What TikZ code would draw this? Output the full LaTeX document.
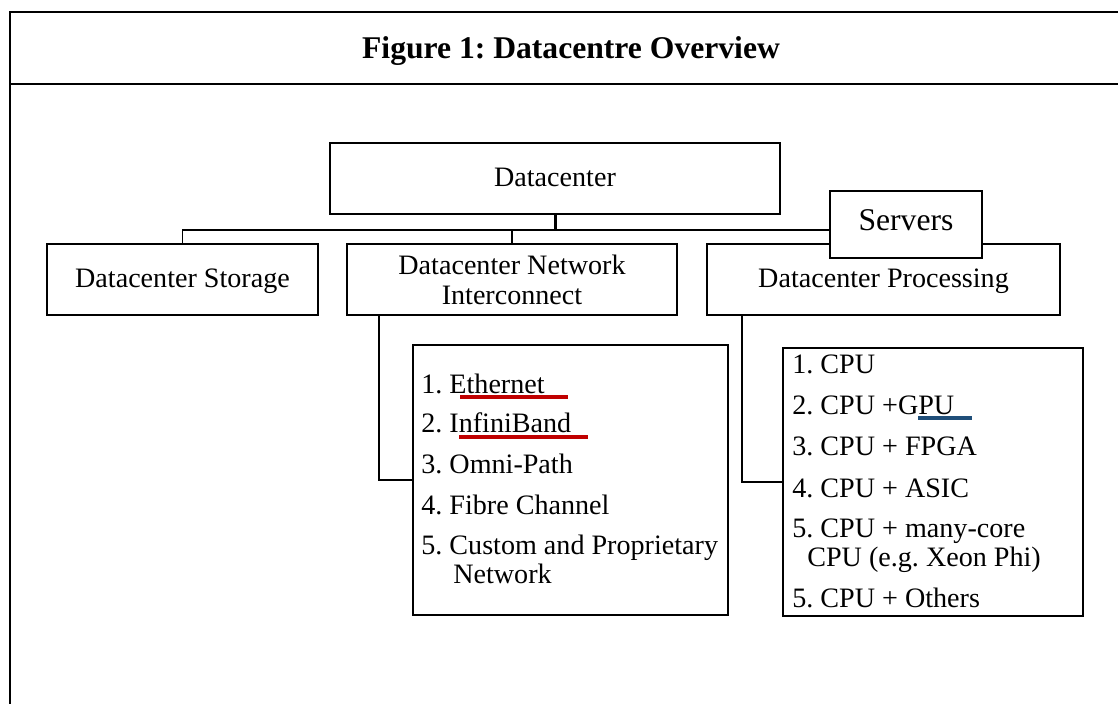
\documentclass[tikz,border=0pt]{standalone}
\usepackage{fontspec}
\setmainfont{Liberation Serif}
\frenchspacing
\definecolor{ulred}{HTML}{C00000}
\definecolor{ulblue}{HTML}{1F4E79}
\newcommand\bodyfont{\fontsize{16}{18.5}\selectfont\frenchspacing}
\newcommand\titlefont{\fontsize{18}{22}\selectfont\bfseries\frenchspacing}
\newcommand\srvfont{\fontsize{18}{22}\selectfont}
\begin{document}
\begin{tikzpicture}[x=0.02cm,y=-0.02cm,
  frame/.style={line width=1.4pt},
  box/.style={draw,fill=white,line width=1.1pt,inner sep=0pt,font=\bodyfont,
    text height=0.86em,text depth=0pt},
  twobox/.style={draw,fill=white,line width=1.1pt,inner sep=0pt,font=\bodyfont,align=center},
  listbox/.style={draw,fill=white,line width=1.1pt,inner sep=0pt},
  item/.style={anchor=base west,inner sep=0pt,font=\bodyfont},
  conn/.style={line width=0.9pt},
  stem/.style={line width=1.7pt},
  ul/.style={line width=2.2pt}]
\useasboundingbox (0,0) rectangle (1118,704);
% frame
\draw[frame] (1118,12) -- (10,12) -- (10,704);
\draw[frame] (10,84) -- (1118,84);
\node[font=\titlefont,anchor=base,inner sep=0pt] (title) at (571,58) {Figure 1: Datacentre Overview};
% top level
\node[box,minimum width=9cm,minimum height=1.42cm] (dc) at (555,178.5) {Datacenter};
\node[box,minimum width=5.42cm,minimum height=1.42cm] (sto) at (182.5,279.5) {Datacenter Storage};
\node[twobox,minimum width=6.6cm,minimum height=1.42cm] (net) at (512,279.5) {Datacenter Network\\[-1.5pt]Interconnect};
\node[box,minimum width=7.06cm,minimum height=1.42cm] (pro) at (883.5,279.5) {Datacenter Processing};
\node[box,line width=1.6pt,font=\srvfont,text height=0.66em,minimum width=3.04cm,minimum height=1.34cm] (srv) at (906,224.5) {Servers\hspace{0.28cm}};
% bus
\coordinate (bus) at (555,230);
\draw[conn] (sto.north) |- (bus) -- (bus -| srv.west);
\draw[conn] (net.north) -- (net.north |- bus);
\draw[stem] (dc.south) -- (bus);
% lists
\node[listbox,minimum width=6.3cm,minimum height=5.4cm] (nl) at (570.5,480) {};
\node[listbox,minimum width=6cm,minimum height=5.36cm] (pl) at (933,482) {};
\draw[conn] (net.south west) ++(33,0) |- (nl.west);
\draw[conn] (pro.south west) ++(36,0) |- (pl.west);
% network items
\node[item] (n1) at (421,393) {1. Ethernet};
\node[item] (n2) at (421,432) {2. InfiniBand};
\node[item] (n3) at (421,473) {3. Omni-Path};
\node[item] (n4) at (421,514) {4. Fibre Channel};
\node[item] (n5) at (421,554) {5. Custom and Proprietary};
\node[item] (n5b) at (453,583) {Network};
\draw[ul,ulred] (460,397) -- (568,397);
\draw[ul,ulred] (459,437) -- (588,437);
% processing items
\node[item] (p1) at (792,373) {1. CPU};
\node[item] (p2) at (792,414) {2. CPU +GPU};
\node[item] (p3) at (792,455) {3. CPU + FPGA};
\node[item] (p4) at (792,497) {4. CPU + ASIC};
\node[item] (p5) at (792,537) {5. CPU + many-core};
\node[item] (p5b) at (807,566) {CPU (e.g. Xeon Phi)};
\node[item] (p6) at (792,607) {5. CPU + Others};
\draw[ul,ulblue] (918,418) -- (972,418);
\end{tikzpicture}
\end{document}
